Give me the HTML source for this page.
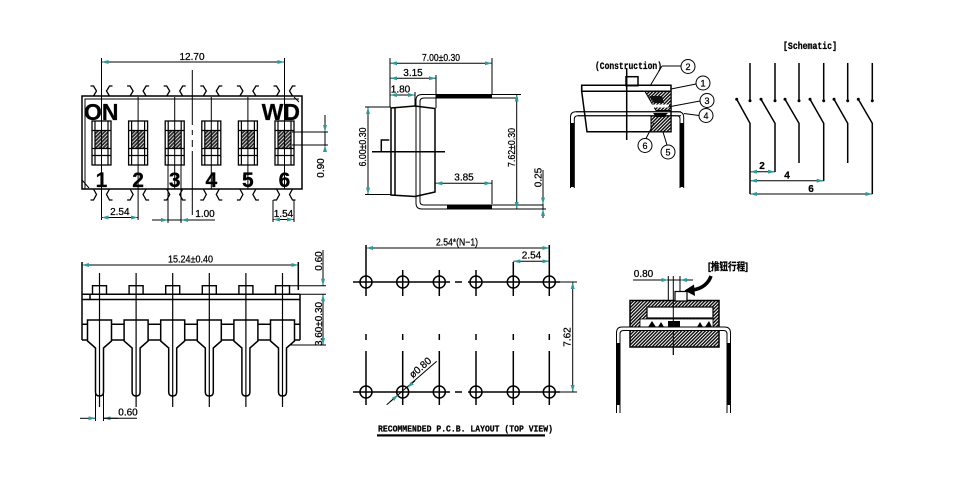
<!DOCTYPE html>
<html><head><meta charset="utf-8">
<style>
html,body{margin:0;padding:0;background:#fff;}
svg{display:block;}
text{font-family:"Liberation Sans","Noto Sans CJK SC",sans-serif;fill:#000;stroke:#000;stroke-width:0.25px;}
.m{font-family:"Liberation Mono","Noto Sans CJK SC",monospace;font-weight:bold;}
.s{fill:none;stroke:#000;stroke-width:1.5;}
.t{fill:none;stroke:#000;stroke-width:1;}
.d{fill:none;stroke:#000;stroke-width:1;marker-start:url(#ar);marker-end:url(#ar);}
.e{fill:none;stroke:#000;stroke-width:1;marker-end:url(#ar);}
</style></head><body>
<svg width="960" height="488" viewBox="0 0 960 488" xmlns="http://www.w3.org/2000/svg">
<defs>
<marker id="ar" viewBox="0 0 7 4" refX="7" refY="2" markerWidth="7" markerHeight="4" markerUnits="userSpaceOnUse" orient="auto-start-reverse"><path d="M0,0 L7,2 L0,4z" fill="#2e9a9a"/></marker>
<pattern id="h" width="2.6" height="2.6" patternUnits="userSpaceOnUse" patternTransform="rotate(45)"><rect width="2.6" height="2.6" fill="#2a2a2a"/><rect width="0.9" height="2.6" fill="#dcdcdc"/></pattern>
<pattern id="h2" width="2.4" height="2.4" patternUnits="userSpaceOnUse" patternTransform="rotate(45)"><rect width="2.4" height="2.4" fill="#fff"/><rect width="1.45" height="2.4" fill="#111"/></pattern>
<g id="tabT"><path d="M-11,86 H-8 L-5,91 L-8,96 M11,86 H8 L5,91 L8,96" fill="none" stroke="#000" stroke-width="1.3"/></g>
<g id="tabB"><path d="M-11,200 H-8 L-5,194.5 L-8,189 M11,200 H8 L5,194.5 L8,189" fill="none" stroke="#000" stroke-width="1.3"/></g>
<g id="win">
<rect x="-9.5" y="121" width="19" height="44" fill="#fff" stroke="#000" stroke-width="1.3"/>
<rect x="-6.5" y="130.5" width="13" height="18" fill="url(#h)"/>
<path d="M-6.5,121 V165 M6.5,121 V165 M-9.5,130.5 H9.5 M-9.5,148.5 H9.5 M-9.5,155.5 H9.5" fill="none" stroke="#000" stroke-width="1.2"/>
</g>
<g id="fpin">
<rect x="-7" y="285.7" width="14" height="8.6" fill="none" stroke="#000" stroke-width="1.4"/>
<path d="M-12,341 V320 H12 V341 L4,348 V392 Q4,396 0,396 Q-4,396 -4,392 V348 L-12,341 Z" fill="#fff" stroke="#000" stroke-width="1.5"/>
<path d="M0,273 V407" fill="none" stroke="#000" stroke-width="1.2"/>
</g>
<g id="hole"><circle cx="0" cy="0" r="6" fill="none" stroke="#000" stroke-width="1.5"/></g>
</defs>

<!-- ============ SECTION 1: top view ============ -->
<rect x="82" y="96" width="220" height="93" class="s"/>
<path d="M85,189 V99 H299" class="t"/>
<path d="M82,180 L89,188 M294,97 L299,102" class="t"/>
<use href="#tabT" x="101.5"/><use href="#tabT" x="138.1"/><use href="#tabT" x="174.7"/><use href="#tabT" x="211.3"/><use href="#tabT" x="247.9"/><use href="#tabT" x="284.5"/>
<use href="#tabB" x="101.5"/><use href="#tabB" x="138.1"/><use href="#tabB" x="174.7"/><use href="#tabB" x="211.3"/><use href="#tabB" x="247.9"/><use href="#tabB" x="284.5"/>
<use href="#win" x="101.5"/><use href="#win" x="138.1"/><use href="#win" x="174.7"/><use href="#win" x="211.3"/><use href="#win" x="247.9"/><use href="#win" x="284.5"/>
<text x="84" y="120" font-size="23" font-weight="bold">ON</text>
<text x="300" y="120" font-size="23" font-weight="bold" text-anchor="end">WD</text>
<g font-size="21" font-weight="bold" text-anchor="middle">
<text x="101.5" y="187">1</text><text x="138.1" y="187">2</text><text x="174.7" y="187">3</text><text x="211.3" y="187">4</text><text x="247.9" y="187">5</text><text x="284.5" y="187">6</text>
</g>
<path d="M101.5,58 V220 M138.1,97 V220 M174.7,97 V189 M211.3,97 V189 M247.9,97 V189 M284.5,58 V189 M168,165 V223 M181,165 V223 M273,200 V222 M294,200 V222" class="t" stroke-width="1.3"/>
<path d="M192.3,70 V125 M192.3,130 V135 M192.3,140 V147 M192.3,151 V215" class="t" stroke-width="1.3"/>
<line x1="101.5" y1="62" x2="284.5" y2="62" class="d"/>
<text x="192" y="60" font-size="10" text-anchor="middle">12.70</text>
<path d="M292,132 H328 M292,145 H328" class="t"/>
<line x1="325" y1="115" x2="325" y2="152" class="t"/>
<line x1="325" y1="118" x2="325" y2="132" class="e"/>
<line x1="325" y1="152" x2="325" y2="145" class="e"/>
<text transform="translate(324,168) rotate(-90)" font-size="10" text-anchor="middle">0.90</text>
<line x1="101.5" y1="217.5" x2="138.1" y2="217.5" class="d"/>
<text x="119.8" y="215" font-size="10" text-anchor="middle">2.54</text>
<line x1="152" y1="220" x2="215" y2="220" class="t"/>
<line x1="155" y1="220" x2="168" y2="220" class="e"/>
<line x1="194" y1="220" x2="181" y2="220" class="e"/>
<text x="205" y="217" font-size="10" text-anchor="middle">1.00</text>
<line x1="273" y1="219.5" x2="294" y2="219.5" class="d"/>
<text x="283.5" y="217" font-size="10" text-anchor="middle">1.54</text>

<!-- ============ SECTION 2: side view ============ -->
<path d="M391,108 L415,106 L435,108.5 V192 L415,196.5 L391,195 Z" class="s"/>
<path d="M395,107.5 V195.3" class="s"/>
<path d="M416,108 V100 Q416,94.5 422,94.5 H518 M420,108 V101.5 Q420,98 424,98 H518" class="t" stroke-width="1.3"/>
<path d="M416,106 V196.5 M420,106 V196.5" class="t" stroke-width="1.3"/>
<rect x="436" y="94.5" width="56" height="4" fill="#000"/>
<path d="M416,195 V203 Q416,209 422,209 H543 M420,195 V201.5 Q420,205 424,205 H543" class="t" stroke-width="1.3"/>
<rect x="447" y="204.5" width="45" height="4.5" fill="#000"/>
<path d="M372,151.7 H445 M381.3,151.7 V140 H389.3" class="s" stroke-width="1.3"/>
<path d="M390,58 V107 M492,58 V95 M436,75 V108 M415,92 V106" class="t"/>
<line x1="390" y1="63.3" x2="492" y2="63.3" class="d"/>
<text x="441" y="61" font-size="10" text-anchor="middle" textLength="38" lengthAdjust="spacingAndGlyphs">7.00±0.30</text>
<line x1="390" y1="78.3" x2="436" y2="78.3" class="d"/>
<text x="413" y="76" font-size="10" text-anchor="middle">3.15</text>
<line x1="390" y1="95" x2="415" y2="95" class="d"/>
<text x="400.5" y="92.5" font-size="10" text-anchor="middle">1.80</text>
<path d="M365,107 H391 M365,194.5 H391" class="t"/>
<line x1="368" y1="107" x2="368" y2="194.5" class="d"/>
<text transform="translate(366,147) rotate(-90)" font-size="10" text-anchor="middle" textLength="39" lengthAdjust="spacingAndGlyphs">6.00±0.30</text>
<path d="M518,94.5 H521 M543,209 H546" class="t"/>
<line x1="516.7" y1="94.5" x2="516.7" y2="209" class="d"/>
<text transform="translate(515,147.5) rotate(-90)" font-size="10" text-anchor="middle" textLength="39" lengthAdjust="spacingAndGlyphs">7.62±0.30</text>
<path d="M492,180 V204" class="t"/>
<line x1="435.3" y1="183.3" x2="491.5" y2="183.3" class="d"/>
<text x="464" y="180.5" font-size="10" text-anchor="middle">3.85</text>
<line x1="543" y1="170" x2="543" y2="218" class="t"/>
<line x1="543" y1="194" x2="543" y2="204.5" class="e"/>
<line x1="543" y1="218" x2="543" y2="209" class="e"/>
<text transform="translate(541.5,177.5) rotate(-90)" font-size="10" text-anchor="middle">0.25</text>

<!-- ============ SECTION 3: construction ============ -->
<text x="595" y="69" class="m" font-size="10" textLength="67" lengthAdjust="spacingAndGlyphs">(Construction)</text>
<path d="M662,66 H681 M662,66 L650,86" class="t"/>
<circle cx="688" cy="66.5" r="7" class="t"/>
<text x="688" y="70" font-size="9" text-anchor="middle">2</text>
<rect x="626" y="76.7" width="12" height="9" class="s" stroke-width="1.3"/>
<path d="M581.7,85.3 H671 V131.7 H587 L581.7,91.3 Z M581.7,91.3 H671" class="s" stroke-width="1.3"/>
<path d="M581.7,85.3 V91.3" class="s" stroke-width="1.3"/>
<polygon points="645,91.5 671,91.5 671,110.5 656,110.5" fill="url(#h2)" stroke="#000" stroke-width="1"/>
<polygon points="649,96 662,96 664,103 654,103" fill="#111"/>
<rect x="652" y="104.5" width="17" height="3" fill="#fff"/>
<rect x="651" y="116" width="20" height="15.7" fill="url(#h2)" stroke="#000" stroke-width="1"/>
<polygon points="653,113 668,113 664,117 656,117" fill="#000"/>
<path d="M626.7,68 V140" class="s" stroke-width="1.3"/>
<path d="M681,111.7 H576 Q570.5,111.7 570.5,117 V188 M681,115.7 H578 Q574.3,115.7 574.3,119 V188" class="t" stroke-width="1.2"/>
<path d="M576,111.7 H678 Q683.7,111.7 683.7,117 V188 M578,115.7 H677 Q680,115.7 680,119 V188" class="t" stroke-width="1.2"/>
<rect x="570.5" y="123" width="3.8" height="64" fill="#000"/>
<rect x="680" y="123" width="3.8" height="64" fill="#000"/>
<g class="t">
<path d="M696,84 L671,89 M700,101 L668,107 M699,115.5 L684,113.5 M646,138.5 L654,123 M667,145 L663,132"/>
<circle cx="703" cy="83" r="7"/><circle cx="707" cy="100.5" r="7"/><circle cx="706" cy="115.5" r="7"/><circle cx="645" cy="145.5" r="7"/><circle cx="668" cy="152" r="7"/>
</g>
<g font-size="9" text-anchor="middle">
<text x="703" y="86.3">1</text><text x="707" y="103.8">3</text><text x="706" y="118.8">4</text><text x="645" y="148.8">6</text><text x="668" y="155.3">5</text>
</g>

<!-- ============ SECTION 4: schematic ============ -->
<text x="810" y="49" class="m" font-size="10" text-anchor="middle" textLength="54" lengthAdjust="spacingAndGlyphs">[Schematic]</text>
<g stroke="#000" stroke-width="1.5" fill="none">
<path d="M750,63 V100.7 M775,63 V100.7 M799,63 V100.7 M823.7,63 V100.7 M847.7,63 V100.7 M872.3,63 V100.7"/>
<path d="M736.7,99.3 L750,123.3 V194 M761,99.3 L775,123.3 V172 M785,99.3 L799,123.3 V163 M810,99.3 L823.7,123.3 V181 M834,99.3 L847.7,123.3 V163 M858.3,99.3 L872.3,123.3 V194"/>
</g>
<g fill="#000">
<circle cx="750" cy="100.7" r="1.5"/><circle cx="775" cy="100.7" r="1.5"/><circle cx="799" cy="100.7" r="1.5"/><circle cx="823.7" cy="100.7" r="1.5"/><circle cx="847.7" cy="100.7" r="1.5"/><circle cx="872.3" cy="100.7" r="1.5"/>
<circle cx="736.7" cy="99.3" r="1.5"/><circle cx="761" cy="99.3" r="1.5"/><circle cx="785" cy="99.3" r="1.5"/><circle cx="810" cy="99.3" r="1.5"/><circle cx="834" cy="99.3" r="1.5"/><circle cx="858.3" cy="99.3" r="1.5"/>
</g>
<line x1="750" y1="171.7" x2="775" y2="171.7" class="d"/>
<line x1="750" y1="180.7" x2="823.7" y2="180.7" class="d"/>
<line x1="750" y1="194" x2="872.3" y2="194" class="d"/>
<g font-size="10" font-weight="bold" text-anchor="middle">
<text x="762" y="169">2</text><text x="787" y="178.5">4</text><text x="811" y="192">6</text>
</g>

<!-- ============ SECTION 5: front view ============ -->
<path d="M82,262 V340 M300,294 V340 M82,294.3 H300 M82,299.5 H300 M90,294.3 V299.5 M298.3,262 V290 M82,324.3 H300 M82,340 H300" class="s" stroke-width="1.4"/>
<use href="#fpin" x="99.5"/><use href="#fpin" x="136.1"/><use href="#fpin" x="172.7"/><use href="#fpin" x="209.3"/><use href="#fpin" x="245.9"/><use href="#fpin" x="282.5"/>
<line x1="82" y1="265" x2="298.3" y2="265" class="d"/>
<text x="190.5" y="262.5" font-size="10" text-anchor="middle" textLength="45" lengthAdjust="spacingAndGlyphs">15.24±0.40</text>
<path d="M290,285.7 H326 M300,294.3 H326 M290,345 H326" class="t"/>
<line x1="323" y1="250" x2="323" y2="285.7" class="e"/>
<line x1="323" y1="294.3" x2="323" y2="345" class="d"/>
<text transform="translate(322,261) rotate(-90)" font-size="10" text-anchor="middle">0.60</text>
<text transform="translate(322,324) rotate(-90)" font-size="10" text-anchor="middle" textLength="44" lengthAdjust="spacingAndGlyphs">3.60±0.30</text>
<path d="M95.5,391 V421 M103.5,391 V421" class="t"/>
<line x1="80" y1="418.3" x2="95.5" y2="418.3" class="e"/>
<line x1="118" y1="418.3" x2="103.5" y2="418.3" class="e"/>
<line x1="103.5" y1="418.3" x2="137" y2="418.3" class="t"/>
<text x="128" y="415.5" font-size="10" text-anchor="middle">0.60</text>

<!-- ============ SECTION 6: PCB layout ============ -->
<g stroke="#000" stroke-width="1.5" fill="none">
<path d="M353,282 H450 M455,282 H462 M468,282 H560 M353,392 H450 M455,392 H462 M468,392 H560"/>
<path d="M366,270 V296 M366,334 V340 M366,351 V405 M402.7,270 V296 M402.7,334 V340 M402.7,351 V405 M439.3,270 V296 M439.3,334 V340 M439.3,351 V405 M476,270 V296 M476,334 V340 M476,351 V405 M513.3,262 V296 M513.3,334 V340 M513.3,351 V405 M549.3,245 V296 M549.3,334 V340 M549.3,351 V405 M366,245 V270"/>
</g>
<use href="#hole" x="366" y="282"/><use href="#hole" x="402.7" y="282"/><use href="#hole" x="439.3" y="282"/><use href="#hole" x="476" y="282"/><use href="#hole" x="513.3" y="282"/><use href="#hole" x="549.3" y="282"/>
<use href="#hole" x="366" y="392"/><use href="#hole" x="402.7" y="392"/><use href="#hole" x="439.3" y="392"/><use href="#hole" x="476" y="392"/><use href="#hole" x="513.3" y="392"/><use href="#hole" x="549.3" y="392"/>
<line x1="366" y1="248" x2="549.3" y2="248" class="d"/>
<text x="457" y="245.5" font-size="10" text-anchor="middle" textLength="42" lengthAdjust="spacingAndGlyphs">2.54*(N−1)</text>
<line x1="513.3" y1="261.3" x2="549.3" y2="261.3" class="d"/>
<text x="531.5" y="258.5" font-size="10" text-anchor="middle">2.54</text>
<path d="M556,282 H577 M556,392 H577" class="t"/>
<line x1="572.7" y1="282" x2="572.7" y2="392" class="d"/>
<text transform="translate(570.5,337) rotate(-90)" font-size="10" text-anchor="middle">7.62</text>
<line x1="386.7" y1="404.7" x2="436.7" y2="361.3" class="t" stroke-width="1.2"/>
<line x1="390" y1="401.8" x2="398.2" y2="394.8" class="e"/>
<line x1="415" y1="380.8" x2="407.2" y2="387.6" class="e"/>
<text transform="translate(424,372) rotate(-41)" y="-2.5" font-size="10" text-anchor="middle">ø0.80</text>
<text x="378" y="431.5" class="m" font-size="9.5" textLength="175" lengthAdjust="spacingAndGlyphs">RECOMMENDED P.C.B. LAYOUT (TOP VIEW)</text>
<rect x="377" y="434.3" width="168" height="2.2" fill="#000"/>

<!-- ============ SECTION 7: travel ============ -->
<text x="708" y="270" font-size="10.5" font-weight="bold" textLength="40" lengthAdjust="spacingAndGlyphs">[推钮行程]</text>
<path d="M668.3,276 V300 M680,276 V292 M673.3,276 V355" class="t" stroke-width="1.2"/>
<line x1="633" y1="280" x2="688" y2="280" class="t"/>
<line x1="655" y1="280" x2="668.3" y2="280" class="e"/>
<line x1="693" y1="280" x2="680" y2="280" class="e"/>
<text x="643.5" y="277" font-size="10" text-anchor="middle">0.80</text>
<path d="M711,276 Q707,287.5 693,290" fill="none" stroke="#000" stroke-width="3.5"/>
<polygon points="684.5,290.5 694,284.5 695,296" fill="#000"/>
<rect x="630" y="300.5" width="89" height="46.5" fill="url(#h2)" stroke="#000" stroke-width="1.5"/>
<rect x="647" y="307" width="66" height="11" fill="#fff" stroke="#000" stroke-width="1.2"/>
<rect x="640" y="319" width="73" height="8" fill="#fff" stroke="#000" stroke-width="0.8"/>
<path d="M648,327 L652,321 L656,327 Z M658,327 L661,322 L664,327 Z M697,327 L700,322 L703,327 Z M705,327 L709,321 L712,327 Z" fill="#000"/>
<rect x="668" y="321" width="12" height="6" fill="#000"/>
<rect x="675" y="291.5" width="12" height="9.5" fill="#fff" stroke="#000" stroke-width="1.2"/>
<path d="M673.3,300 V355" class="t" stroke-width="1.2"/>
<rect x="620" y="327" width="108" height="3.5" fill="#fff"/>
<path d="M715,327 H634 M715,330.5 H634" class="t" stroke-width="1.2"/>
<path d="M636,327 H622 Q616.5,327 616.5,333 V413 M636,330.5 H623.5 Q620,330.5 620,334 V413" class="t" stroke-width="1.2"/>
<path d="M712,327 H724.5 Q730.5,327 730.5,333 V413 M712,330.5 H723.5 Q727,330.5 727,334 V413" class="t" stroke-width="1.2"/>
<rect x="616.5" y="343" width="3.5" height="62" fill="#000"/>
<rect x="727" y="343" width="3.5" height="62" fill="#000"/>
</svg>
</body></html>
